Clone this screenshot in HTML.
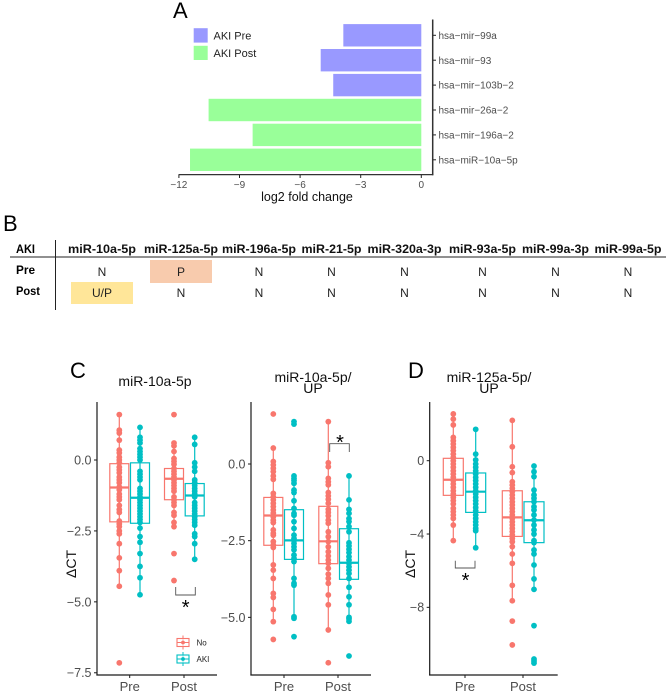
<!DOCTYPE html>
<html>
<head>
<meta charset="utf-8">
<title>miRNA figure</title>
<style>
html,body{margin:0;padding:0;background:#fff;width:669px;height:694px;overflow:hidden}
svg{display:block}
text{font-family:"Liberation Sans",sans-serif}
</style>
</head>
<body>
<svg id="fig" xmlns="http://www.w3.org/2000/svg" width="669" height="694" viewBox="0 0 669 694">
  <text x="173" y="18" font-size="22" fill="#000">A</text>
  <text x="3" y="231" font-size="22" fill="#000">B</text>
  <text x="70" y="378" font-size="22" fill="#000">C</text>
  <text x="408" y="378" font-size="22" fill="#000">D</text>

  <g id="table">
    <rect x="150" y="260" width="62" height="23" fill="#f8cbad"/>
    <rect x="71" y="282" width="62" height="22" fill="#ffe699"/>
    <line x1="10" y1="257" x2="666" y2="257" stroke="#222" stroke-width="1"/>
    <line x1="55.5" y1="240" x2="55.5" y2="310" stroke="#222" stroke-width="1"/>
    <text x="16" y="253" font-size="11.5" font-weight="bold" textLength="19" lengthAdjust="spacingAndGlyphs">AKI</text>
    <text x="16" y="274" font-size="11.5" font-weight="bold" textLength="19" lengthAdjust="spacingAndGlyphs">Pre</text>
    <text x="16" y="295" font-size="11.5" font-weight="bold" textLength="24" lengthAdjust="spacingAndGlyphs">Post</text>
  </g>

  <g id="panel-a"></g>
  <g id="panel-c1"></g>
  <g id="panel-c2"></g>
  <g id="panel-d"></g>
</svg>
<script>
/* ---------- Panel A data ---------- */
var barLabels = ["hsa\u2212mir\u221299a","hsa\u2212mir\u221293","hsa\u2212mir\u2212103b\u22122","hsa\u2212mir\u221226a\u22122","hsa\u2212mir\u2212196a\u22122","hsa\u2212miR\u221210a\u22125p"];
var barValues = [-3.86,-4.98,-4.36,-10.53,-8.35,-11.45];
var barGroups = ["Pre","Pre","Pre","Post","Post","Post"];
var barTicks = [-12,-9,-6,-3,0];

/* ---------- Panel B data ---------- */
var tableHeaders = ["miR-10a-5p","miR-125a-5p","miR-196a-5p","miR-21-5p","miR-320a-3p","miR-93a-5p","miR-99a-3p","miR-99a-5p"];
var tablePre = ["N","P","N","N","N","N","N","N"];
var tablePost = ["U/P","N","N","N","N","N","N","N"];

/* ---------- Box plot data: points, and box = [low whisker, q1, median, q3, high whisker] ---------- */
var c1Ticks = [0,-2.5,-5,-7.5];
var c1PreNo = [1.6,1.05,0.95,0.7,0.35,0.25,0.1,0,-0.1,-0.25,-0.35,-0.45,-0.6,-0.7,-0.8,-0.95,-1.05,-1.2,-1.3,-1.4,-1.6,-1.75,-1.85,-2.15,-2.25,-2.35,-2.5,-2.6,-2.95,-3.45,-3.9,-4.45,-7.15];
var c1PreAki = [1.15,0.8,0.7,0.6,0.4,0.3,0.2,0.1,0,-0.4,-0.5,-0.6,-0.7,-1,-1.1,-1.2,-1.3,-1.4,-1.5,-1.6,-1.7,-1.8,-1.9,-2,-2.1,-2.2,-2.4,-2.7,-2.9,-3.3,-3.75,-4.15,-4.75];
var c1PostNo = [1.6,0.6,0.5,0.3,0.05,-0.05,-0.15,-0.3,-0.4,-0.5,-0.6,-0.7,-0.8,-0.9,-1,-1.1,-1.3,-1.4,-1.5,-1.6,-1.85,-1.95,-2.2,-2.35,-3.3,-4.25];
var c1PostAki = [0.8,0.55,-0.1,-0.25,-0.4,-0.7,-0.8,-0.9,-1,-1.1,-1.2,-1.3,-1.5,-1.6,-1.7,-1.8,-1.9,-2,-2.1,-2.2,-2.3,-2.6,-2.7,-2.95,-3.5];
var c1PreNoBox = [-4.45,-2.18,-0.97,-0.13,1.6];
var c1PreAkiBox = [-4.75,-2.23,-1.33,-0.1,1.15];
var c1PostNoBox = [-2.35,-1.4,-0.66,-0.3,0.6];
var c1PostAkiBox = [-3.5,-1.97,-1.25,-0.83,0.8];

var c2Ticks = [0,-2.5,-5];
var c2PreNo = [1.63,0.52,0.08,-0.03,-0.14,-0.25,-0.39,-0.5,-0.96,-1.07,-1.17,-1.28,-1.39,-1.5,-1.6,-1.72,-1.83,-1.91,-2.15,-2.26,-2.32,-2.53,-2.64,-2.72,-3.29,-3.46,-3.73,-4.22,-4.35,-4.74,-5.14,-5.72];
var c2PreAki = [1.38,1.3,-0.39,-0.47,-0.54,-0.63,-0.85,-0.93,-1.2,-1.45,-1.61,-1.67,-1.88,-2.1,-2.32,-2.43,-2.5,-2.59,-2.7,-2.8,-2.97,-3.08,-3.18,-3.73,-3.89,-3.95,-4.98,-5.03,-5.63];
var c2PostNo = [1.38,0.04,-0.09,-0.47,-0.58,-0.68,-0.93,-1.04,-1.15,-1.28,-1.48,-1.58,-1.69,-1.83,-1.93,-2.21,-2.37,-2.53,-2.7,-2.86,-3,-3.13,-3.24,-3.4,-3.59,-3.73,-3.89,-4.27,-4.59,-5.41,-6.48];
var c2PostAki = [-0.39,-1.17,-1.48,-1.61,-1.78,-1.88,-2.04,-2.21,-2.57,-2.67,-2.78,-2.89,-3.02,-3.13,-3.24,-3.35,-3.46,-3.57,-3.73,-4.02,-4.33,-4.59,-5,-5.05,-5.13,-6.26];
var c2PreNoBox = [-5.14,-2.65,-1.68,-1.09,0.52];
var c2PreAkiBox = [-5.03,-3.11,-2.49,-1.49,-0.39];
var c2PostNoBox = [-5.41,-3.25,-2.52,-1.38,1.38];
var c2PostAkiBox = [-5.11,-3.76,-3.22,-2.11,-0.39];

var dTicks = [0,-4,-8];
var dPreNo = [2.55,2.27,1.95,1.27,1.09,0.91,0.73,0.55,0.36,0.18,0,-0.18,-0.36,-0.55,-0.73,-0.91,-1.09,-1.27,-1.45,-1.64,-1.82,-2,-2.18,-2.36,-2.6,-2.78,-2.96,-3.15,-3.51,-4.36];
var dPreAki = [1.71,0.36,0.04,-0.18,-0.36,-0.55,-0.73,-0.91,-1.09,-1.27,-1.45,-1.64,-1.82,-2,-2.18,-2.36,-2.55,-2.73,-2.96,-3.15,-3.33,-3.51,-3.69,-3.82,-4.75];
var dPostNo = [2.2,0.76,-0.33,-0.65,-1.15,-1.33,-1.51,-1.69,-1.87,-2.05,-2.24,-2.42,-2.6,-2.78,-2.96,-3.15,-3.33,-3.51,-3.69,-3.87,-4.05,-4.24,-4.42,-4.69,-5.09,-5.6,-6.8,-7.64,-8.75,-10.05];
var dPostAki = [-0.29,-0.6,-0.87,-1.6,-1.87,-2.05,-2.24,-2.51,-2.69,-2.96,-3.24,-3.51,-3.78,-4,-4.36,-4.47,-4.87,-5.09,-5.69,-6.45,-7.02,-9,-10.82,-10.93,-11.04];
var dPreNoBox = [-4.36,-1.89,-1.04,0.13,2.55];
var dPreAkiBox = [-4.75,-2.82,-1.69,-0.67,1.71];
var dPostNoBox = [-7.64,-4.13,-3.09,-1.64,2.2];
var dPostAkiBox = [-7.02,-4.47,-3.25,-2.24,-0.29];

/* ---------- helpers ---------- */
var NS = "http://www.w3.org/2000/svg";
var RED = "#F8766D", TEAL = "#00BFC4", AXIS = "#222222", GREY = "#4d4d4d";
function mk(parent, tag, attrs, txt){
  var el = document.createElementNS(NS, tag);
  for (var k in attrs) el.setAttribute(k, attrs[k]);
  if (txt !== undefined) el.textContent = txt;
  parent.appendChild(el);
  return el;
}
function fmt(v, dec){
  var s = Math.abs(v).toFixed(dec);
  return (v < 0 ? "\u2212" : "") + s;
}

/* ---------- Panel B ---------- */
(function(){
  var g = document.getElementById("table");
  var cx = [102,181,259,331.5,404.5,482.5,555.5,628];
  var hw = [68,74,74,60,74,67,67,67];
  function cell(col, y, value){
    var t = mk(g, "text", {x: cx[col], y: y, "text-anchor": "middle", "font-size": 12, fill: "#222"}, value);
    
    
  }
  tableHeaders.forEach(function(h, i){
    var t = mk(g, "text", {x: cx[i], y: 253, "text-anchor": "middle", "font-size": 11.5, "font-weight": "bold", fill: "#111", textLength: hw[i], lengthAdjust: "spacingAndGlyphs"}, h);
    
    
  });
  tablePre.forEach(function(v, i){ cell(i, 276, v); });
  tablePost.forEach(function(v, i){ cell(i, 297, v); });
})();

/* ---------- Panel A ---------- */
(function(){
  var g = document.getElementById("panel-a");
  var x0 = 421.3, pxPerUnit = 20.2;
  function xs(v){ return x0 + v * pxPerUnit; }
  var rowTop = 35.3, rowStep = 24.9;
  function ys(i){ return rowTop + i * rowStep; }
  var colors = {Pre: "#9999ff", Post: "#99ff99"};
  barValues.forEach(function(v, i){
    var r = mk(g, "rect", {x: xs(v), y: ys(i) - 11.2, width: xs(0) - xs(v), height: 22.4, fill: colors[barGroups[i]]});
    
    
    var tk = mk(g, "line", {x1: 432.7, x2: 436, y1: ys(i), y2: ys(i), stroke: AXIS, "stroke-width": 1});
    
    
    var t = mk(g, "text", {x: 438.5, y: ys(i) + 3.6, "font-size": 10, fill: GREY}, barLabels[i]);
    
    
  });
  var ya = mk(g, "line", {x1: 432.7, x2: 432.7, y1: 19.5, y2: 175.2, stroke: "#333", "stroke-width": 1.5});
  
  
  var xa = mk(g, "line", {x1: 178.5, x2: 433.4, y1: 174.6, y2: 174.6, stroke: "#333", "stroke-width": 1.2});
  
  
  barTicks.forEach(function(v){
    var tk = mk(g, "line", {x1: xs(v), x2: xs(v), y1: 175, y2: 178, stroke: AXIS, "stroke-width": 1});
    
    
    var t = mk(g, "text", {x: xs(v), y: 188, "text-anchor": "middle", "font-size": 10, fill: GREY}, fmt(v, 0));
    
    
  });
  var ti = mk(g, "text", {x: 307, y: 201, "text-anchor": "middle", "font-size": 12.5, fill: "#111"}, "log2 fold change");
  
  
  var k1 = mk(g, "rect", {x: 193.7, y: 28.2, width: 14, height: 14.4, fill: "#9999ff"});
  
  
  var k2 = mk(g, "rect", {x: 193.7, y: 45.8, width: 14, height: 14.2, fill: "#99ff99"});
  
  
  var l1 = mk(g, "text", {x: 213.5, y: 39.5, "font-size": 11, fill: "#222"}, "AKI Pre");
  
  
  var l2 = mk(g, "text", {x: 213.5, y: 57, "font-size": 11, fill: "#222"}, "AKI Post");
  
  
})();

/* ---------- Box plots ---------- */
function drawBoxPanel(o){
  var g = document.getElementById(o.id);
  function ys(v){ return o.y0 - v * o.pxPerUnit; }
  var axisColor = "#1a1a1a";
  o.series.forEach(function(s){
    var c = s.color, bw = o.boxWidth, b = s.box;
    var w = mk(g, "line", {x1: s.x, x2: s.x, y1: ys(b[0]), y2: ys(b[4]), stroke: c, "stroke-width": 1.2});
    
    
    var r = mk(g, "rect", {x: s.x - bw / 2, y: ys(b[3]), width: bw, height: ys(b[1]) - ys(b[3]), fill: "none", stroke: c, "stroke-width": 1.2});
    
    
    s.points.forEach(function(v){
      var d = mk(g, "circle", {cx: s.x, cy: ys(v), r: 2.9, fill: c});
      
      
    });
    var m = mk(g, "line", {x1: s.x - bw / 2, x2: s.x + bw / 2, y1: ys(b[2]), y2: ys(b[2]), stroke: c, "stroke-width": 2.2});
    
    
  });
  var ya = mk(g, "line", {x1: o.left, x2: o.left, y1: 402, y2: 675.5, stroke: axisColor, "stroke-width": 1.2});
  
  
  var xa = mk(g, "line", {x1: o.left - 0.6, x2: o.right, y1: 675, y2: 675, stroke: axisColor, "stroke-width": 1.2});
  
  
  o.ticks.forEach(function(v){
    var tk = mk(g, "line", {x1: o.left - 3, x2: o.left, y1: ys(v), y2: ys(v), stroke: axisColor, "stroke-width": 1});
    
    
    var t = mk(g, "text", {x: o.left - 5.5, y: ys(v) + 4.4, "text-anchor": "end", "font-size": 12.5, fill: GREY}, fmt(v, o.dec));
    
    
  });
  o.cats.forEach(function(c){
    var tk = mk(g, "line", {x1: c.x, x2: c.x, y1: 675, y2: 678, stroke: axisColor, "stroke-width": 1});
    
    
    var t = mk(g, "text", {x: c.x, y: 691, "text-anchor": "middle", "font-size": 13, fill: GREY}, c.label);
    
    
  });
  o.title.forEach(function(line, i){
    var t = mk(g, "text", {x: o.titleX, y: o.titleY + i * 11, "text-anchor": "middle", "font-size": 14, fill: "#111"}, line);
    
    
  });
  if (o.ylab !== undefined){
    var yt = mk(g, "text", {x: 0, y: 0, "text-anchor": "middle", "font-size": 14, fill: "#111", transform: "translate(" + (o.ylab + 5) + ",564) rotate(-90)"}, "\u0394CT");
    
    
  }
  var br = o.bracket;
  var p = mk(g, "path", {d: "M" + br.x1 + " " + br.yA + "V" + br.yB + "H" + br.x2 + "V" + br.yA, fill: "none", stroke: "#555", "stroke-width": 0.9});
  
  
  var st = mk(g, "text", {x: br.sx, y: br.sy + 11, "text-anchor": "middle", "font-size": 20, fill: "#000"}, "*");
  
  
}

drawBoxPanel({
  id: "panel-c1", left: 97, right: 217, y0: 460, pxPerUnit: 28.37, ticks: c1Ticks, dec: 1, boxWidth: 19,
  cats: [{x: 129.7, label: "Pre"}, {x: 184, label: "Post"}],
  series: [
    {x: 119.3, color: RED, points: c1PreNo, box: c1PreNoBox},
    {x: 140, color: TEAL, points: c1PreAki, box: c1PreAkiBox},
    {x: 174, color: RED, points: c1PostNo, box: c1PostNoBox},
    {x: 194.7, color: TEAL, points: c1PostAki, box: c1PostAkiBox}
  ],
  title: ["miR-10a-5p"], titleX: 155, titleY: 386, ylab: 71,
  bracket: {x1: 175.7, x2: 195.3, yA: 587, yB: 595, sx: 185.7, sy: 603}
});
drawBoxPanel({
  id: "panel-c2", left: 251, right: 371, y0: 464, pxPerUnit: 30.67, ticks: c2Ticks, dec: 1, boxWidth: 19,
  cats: [{x: 284, label: "Pre"}, {x: 338, label: "Post"}],
  series: [
    {x: 273.3, color: RED, points: c2PreNo, box: c2PreNoBox},
    {x: 294, color: TEAL, points: c2PreAki, box: c2PreAkiBox},
    {x: 328.3, color: RED, points: c2PostNo, box: c2PostNoBox},
    {x: 349, color: TEAL, points: c2PostAki, box: c2PostAkiBox}
  ],
  title: ["miR-10a-5p/", "UP"], titleX: 313, titleY: 382,
  bracket: {x1: 329.7, x2: 349.3, yA: 452, yB: 443.7, sx: 340, sy: 438}
});
drawBoxPanel({
  id: "panel-d", left: 429.7, right: 557.7, y0: 460.7, pxPerUnit: 18.33, ticks: dTicks, dec: 0, boxWidth: 20,
  cats: [{x: 465, label: "Pre"}, {x: 523, label: "Post"}],
  series: [
    {x: 453.3, color: RED, points: dPreNo, box: dPreNoBox},
    {x: 475.7, color: TEAL, points: dPreAki, box: dPreAkiBox},
    {x: 512.3, color: RED, points: dPostNo, box: dPostNoBox},
    {x: 534, color: TEAL, points: dPostAki, box: dPostAkiBox}
  ],
  title: ["miR-125a-5p/", "UP"], titleX: 489, titleY: 382, ylab: 410,
  bracket: {x1: 455.3, x2: 475, yA: 560.7, yB: 568, sx: 465.5, sy: 576}
});

/* ---------- Legend in panel C ---------- */
(function(){
  var g = document.getElementById("panel-c1");
  function key(y, color, label, nm){
    var w = mk(g, "line", {x1: 183, x2: 183, y1: y - 7, y2: y + 7, stroke: color, "stroke-width": 1});
    
    
    var r = mk(g, "rect", {x: 177, y: y - 4, width: 12, height: 8, fill: "#fff", "fill-opacity": 0.6, stroke: color, "stroke-width": 1.1});
    
    
    var l = mk(g, "line", {x1: 177, x2: 189, y1: y, y2: y, stroke: color, "stroke-width": 1});
    
    
    var d = mk(g, "circle", {cx: 183, cy: y, r: 1.9, fill: color});
    
    
    var t = mk(g, "text", {x: 196.5, y: y + 3, "font-size": 8, fill: "#222"}, label);
    
    
  }
  key(642.5, RED, "No", "legend-key-no");
  key(659, TEAL, "AKI", "legend-key-aki");
})();
</script>
</body>
</html>
